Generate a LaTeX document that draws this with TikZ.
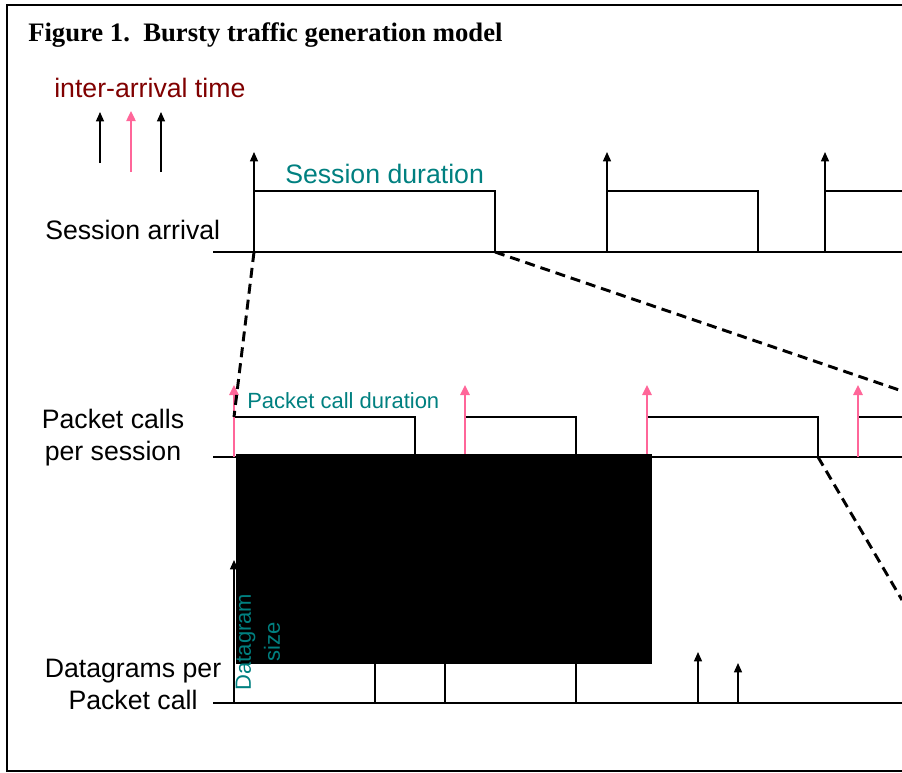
\documentclass[tikz,border=0pt]{standalone}
\usepackage{fontspec}
\setmainfont{Liberation Serif}
\setsansfont{Liberation Sans}
\usetikzlibrary{arrows.meta,positioning}

\definecolor{durcol}{RGB}{0,128,128}
\definecolor{gapcol}{RGB}{128,0,0}
\definecolor{pinkcol}{RGB}{255,102,153}

\begin{document}
\begin{tikzpicture}[x=0.75pt, y=-0.75pt,
    axis/.style={line width=1pt},
    arr/.style={line width=1pt, -{Triangle[length=7pt,width=6pt]}},
    parr/.style={line width=1.2pt, pinkcol, -{Triangle[length=7.5pt,width=7pt]}},
    zoomline/.style={line width=2.2pt, dash pattern=on 7.5pt off 4.5pt},
    rowlbl/.style={font=\sffamily\fontsize{20}{24}\selectfont, align=center, inner sep=0pt},
    durlbl/.style={font=\sffamily\fontsize{20}{24}\selectfont, text=durcol, inner sep=0pt},
    smalllbl/.style={font=\sffamily\fontsize{16.5}{21.75}\selectfont, text=durcol, align=center, inner sep=0pt}]

    \useasboundingbox (0,0) rectangle (902,772);
    \clip (0,0) rectangle (902,772);

    % Draw frame and title
    \draw[line width=1.6pt] (910,5) -- (7,5) -- (7,771) -- (910,771);
    \node[font=\bfseries\fontsize{20}{24}\selectfont, anchor=base west, inner sep=0pt] (title) at (28,41) {Figure 1.\ \ Bursty traffic generation model};

    % Draw legend
    \node[durlbl, text=gapcol, anchor=base west] (iat) at (54,97) {inter-arrival time};
    \draw[arr] (100,163) -- (100,112);
    \draw[parr, line width=1pt] (131,172) -- (131,111);
    \draw[arr] (161,172) -- (161,112);

    % Draw session arrival row
    \node[rowlbl, anchor=base west] (sarr) at (45,239) {Session arrival};
    \draw[axis] (213,252) -- (902,252);
    \foreach \a/\b in {254/495, 607/758, 825/910} {
      \draw[axis] (\a,252) |- (\b,191) -- (\b,252);
      \draw[arr] (\a,252) -- (\a,152);
    }
    \node[durlbl, anchor=base west] (sdur) at (285,183) {Session duration};

    % Draw packet call row
    \node[rowlbl] (pcs) at (113,438) {Packet calls\\per session};
    \draw[axis] (213,457) -- (902,457);
    \foreach \a/\b in {234/415, 465/576, 647/818, 858/910} {
      \draw[axis] (\a,457) |- (\b,417) -- (\b,457);
      \draw[parr] (\a,457) -- (\a,385);
    }
    \node[smalllbl, anchor=base west] (pdur) at (247,408) {Packet call duration};

    % Draw datagram row
    \node[rowlbl] (dpp) at (133,684) {Datagrams per\\Packet call};
    \draw[axis] (213,703) -- (902,703);
    \draw[arr] (234,703) -- (234,560);
    \foreach \x in {375,445,576}
      \draw[axis] (\x,703) -- (\x,660);
    \draw[arr] (698,703) -- (698,652);
    \draw[arr] (738,703) -- (738,663);

    % Draw covering block
    \fill[black] (236,454) rectangle (652,664);
    \node[smalllbl, rotate=90] (dsize) at (258,642) {Datagram\\size};

    % Draw zoom lines
    \coordinate (sbeg) at (254,252);
    \coordinate (send) at (495,252);
    \coordinate (pbeg) at (234,417);
    \coordinate (pfar) at (902,391);
    \coordinate (pend) at (818,457);
    \coordinate (dfar) at (902,600);
    \draw[zoomline] (sbeg) -- (pbeg);
    \draw[zoomline] (send) -- (pfar);
    \draw[zoomline] (pend) -- (dfar);

\end{tikzpicture}
\end{document}
